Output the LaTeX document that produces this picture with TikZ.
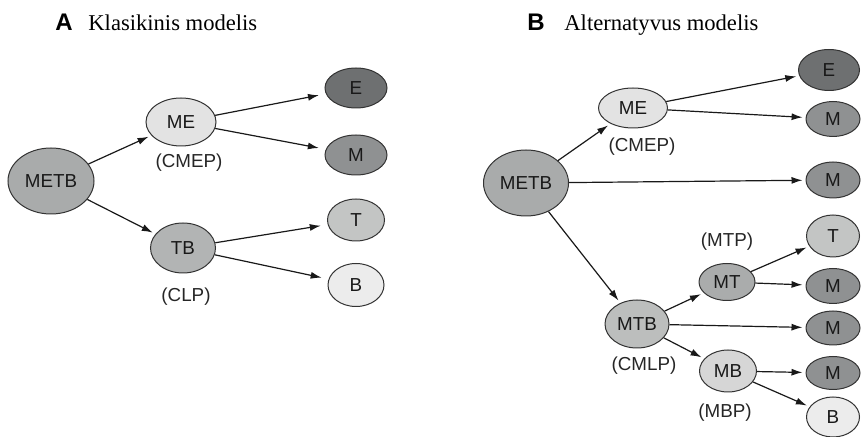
\documentclass[tikz,border=0pt]{standalone}
\usepackage{fontspec}
\setmainfont{Liberation Serif}
\setsansfont{Liberation Sans}
\usetikzlibrary{shapes.geometric,arrows.meta}

\definecolor{cRoot}{HTML}{A9ABAB}
\definecolor{cLight}{HTML}{E3E3E3}
\definecolor{cDark}{HTML}{6E7071}
\definecolor{cMid}{HTML}{8F9192}
\definecolor{cPale}{HTML}{C3C5C4}
\definecolor{cWhite}{HTML}{ECECEC}
\definecolor{cTB}{HTML}{B2B4B4}
\definecolor{cMTB}{HTML}{BCBEBD}
\definecolor{cMT}{HTML}{AAACAC}
\definecolor{cMB}{HTML}{D6D6D6}

\begin{document}
\begin{tikzpicture}[x=0.5pt,y=-0.5pt,
		font=\sffamily\fontsize{9.4}{11}\selectfont,
		elli/.style={ellipse, draw=black!80, line width=0.5pt, inner sep=0pt, text=black!90},
		arr/.style={-{Latex[length=5.5pt,width=3.5pt]}, line width=0.6pt, black!90, shorten >=1.5pt},
		gap/.style={shorten >=3.5pt},
		note/.style={text=black!85},
		title/.style={anchor=base west, inner sep=0pt}]
		\useasboundingbox (0,0) rectangle (861,437);
		
		% Titles
		\node[title, font=\sffamily\bfseries\fontsize{12}{14}\selectfont] (tA) at (55,31) {A};
		\node[title, font=\rmfamily\fontsize{11.3}{13}\selectfont] (tAtext) at (88,31) {Klasikinis modelis};
		\node[title, font=\sffamily\bfseries\fontsize{12}{14}\selectfont] (tB) at (527,31) {B};
		\node[title, font=\rmfamily\fontsize{11.3}{13}\selectfont] (tBtext) at (564,31) {Alternatyvus modelis};
		
		% A: nodes
		\node[elli, fill=cRoot, minimum width=43pt, minimum height=33pt] (metbA) at (51,181) {METB};
		\node[elli, fill=cLight, minimum width=35pt, minimum height=24pt] (meA) at (181,122) {ME};
		\node[elli, fill=cTB, minimum width=32.5pt, minimum height=25pt] (tbA) at (183,248) {TB};
		\node[elli, fill=cDark, minimum width=31pt, minimum height=20pt] (eA) at (356,88) {E};
		\node[elli, fill=cMid, minimum width=31pt, minimum height=20pt] (mA) at (356,155) {M};
		\node[elli, fill=cPale, minimum width=28.5pt, minimum height=21pt] (tA2) at (356,220) {T};
		\node[elli, fill=cWhite, minimum width=28pt, minimum height=21.5pt] (bA) at (356,285) {B};
		\node[note] (cmepA) at (189,163) {(CMEP)};
		\node[note] (clpA) at (186,297) {(CLP)};
		
		% A: arrows
		\draw[arr] (metbA) -- (meA);
		\draw[arr] (metbA) -- (tbA);
		\draw[arr, gap] (meA) -- (eA);
		\draw[arr, gap] (meA) -- (mA);
		\draw[arr, gap] (tbA) -- (tA2);
		\draw[arr, gap] (tbA) -- (bA);
		
		% B: nodes
		\node[elli, fill=cRoot, minimum width=42.5pt, minimum height=33pt] (metbB) at (526,183) {METB};
		\node[elli, fill=cLight, minimum width=34.5pt, minimum height=20pt] (meB) at (633,108) {ME};
		\node[elli, fill=cMTB, minimum width=32pt, minimum height=24pt] (mtbB) at (637,324) {MTB};
		\node[elli, fill=cMT, minimum width=28pt, minimum height=18.5pt] (mtB) at (727,282) {MT};
		\node[elli, fill=cMB, minimum width=28.5pt, minimum height=21pt] (mbB) at (728,371) {MB};
		\node[elli, fill=cDark, minimum width=30.5pt, minimum height=20.5pt] (eB) at (829,70) {E};
		\node[elli, fill=cMid, minimum width=27pt, minimum height=17.5pt] (m1B) at (833,119) {M};
		\node[elli, fill=cMid, minimum width=27pt, minimum height=18pt] (m2B) at (833,180) {M};
		\node[elli, fill=cPale, minimum width=26.5pt, minimum height=21pt] (tB2) at (833,236) {T};
		\node[elli, fill=cMid, minimum width=27pt, minimum height=17.5pt] (m3B) at (833,286) {M};
		\node[elli, fill=cMid, minimum width=27pt, minimum height=17pt] (m4B) at (833,328) {M};
		\node[elli, fill=cMid, minimum width=27pt, minimum height=16.5pt] (m5B) at (833,373) {M};
		\node[elli, fill=cWhite, minimum width=26.5pt, minimum height=20pt] (bB) at (833,417) {B};
		\node[note] (cmepB) at (642,147) {(CMEP)};
		\node[note] (mtpB) at (727,242) {(MTP)};
		\node[note] (cmlpB) at (644,366) {(CMLP)};
		\node[note] (mbpB) at (725,413) {(MBP)};
		
		% B: arrows
		\draw[arr] (metbB) -- (meB);
		\draw[arr] (metbB) -- (m2B);
		\draw[arr] (metbB) -- (mtbB);
		\draw[arr] (meB) -- (eB);
		\draw[arr] (meB) -- (m1B);
		\draw[arr] (mtbB) -- (mtB);
		\draw[arr] (mtbB) -- (m4B);
		\draw[arr] (mtbB) -- (mbB);
		\draw[arr] (mtB) -- (tB2);
		\draw[arr] (mtB) -- (m3B);
		\draw[arr] (mbB) -- (m5B);
		\draw[arr] (mbB) -- (bB);
		
	\end{tikzpicture}
\end{document}
